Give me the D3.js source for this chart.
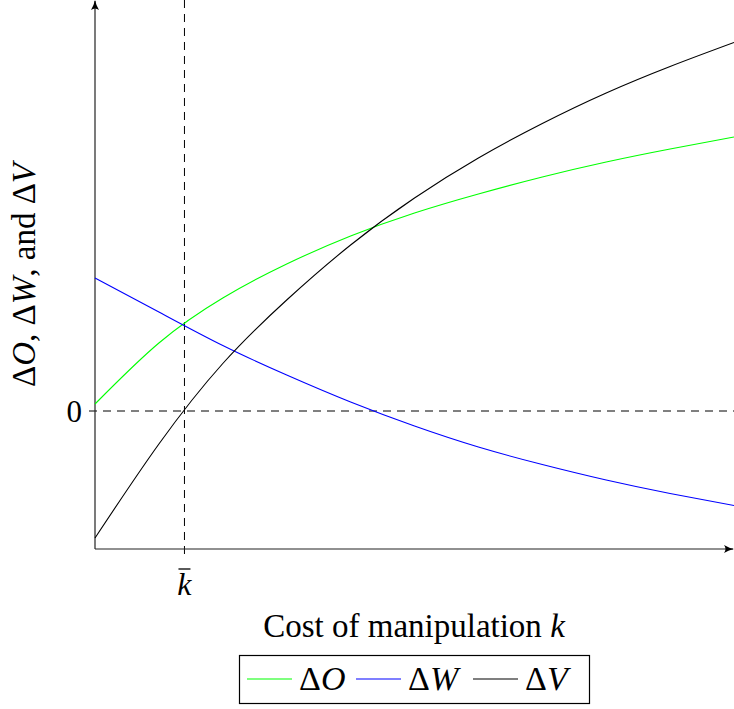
<!DOCTYPE html>
<html>
<head>
<meta charset="utf-8">
<script src="https://cdn.jsdelivr.net/npm/d3@7"></script>
<style>
  body { margin: 0; background: #fff; }
</style>
</head>
<body>
<div class="d3Chart"></div>
<script>
// data
var kValues = [0, 1, 2, 3, 4, 5, 6, 7, 8, 9, 10];
var deltaO = [0.07, 0.68, 1.13, 1.47, 1.75, 1.98, 2.17, 2.34, 2.49, 2.62, 2.74];
var deltaW = [1.33, 0.99, 0.655, 0.36, 0.09, -0.15, -0.36, -0.535, -0.69, -0.825, -0.945];
var deltaV = [-1.27, -0.33, 0.475, 1.11, 1.66, 2.13, 2.53, 2.875, 3.18, 3.445, 3.685];
var kBar = 1.4;
var seriesNames = ["O", "W", "V"];
var seriesColors = ["#00ff00", "#0000ff", "#000000"];

var width = 734;
var height = 709;
var fontFamily = "'Liberation Serif', 'Times New Roman', serif";

var svg = d3
  .select(".d3Chart")
  .append("svg")
  .attr("width", width)
  .attr("height", height)
  .attr("font-family", fontFamily);

// scales
var xScale = d3.scaleLinear().domain([0, 10]).range([95, 734]);
var yScale = d3.scaleLinear().domain([-1.38, 4.11]).range([549, 0]);

// arrow head
svg
  .append("defs")
  .append("marker")
  .attr("id", "arrow")
  .attr("viewBox", "0 0 10 10")
  .attr("refX", 9)
  .attr("refY", 5)
  .attr("markerWidth", 10)
  .attr("markerHeight", 10)
  .attr("markerUnits", "userSpaceOnUse")
  .attr("orient", "auto")
  .append("path")
  .attr("d", "M0,1 Q5,4 10,5 Q5,6 0,9 Q3,5 0,1 Z")
  .attr("fill", "#000");

// dashed reference lines
svg
  .append("line")
  .attr("x1", xScale(0) - 6)
  .attr("x2", xScale(10))
  .attr("y1", yScale(0))
  .attr("y2", yScale(0))
  .attr("stroke", "#000")
  .attr("stroke-width", 1)
  .attr("stroke-dasharray", "8,6");

svg
  .append("line")
  .attr("x1", xScale(kBar))
  .attr("x2", xScale(kBar))
  .attr("y1", 0)
  .attr("y2", yScale(-1.38) + 6)
  .attr("stroke", "#000")
  .attr("stroke-width", 1)
  .attr("stroke-dasharray", "8,6");

// axes
svg
  .append("line")
  .attr("x1", xScale(0))
  .attr("x2", xScale(0))
  .attr("y1", yScale(-1.38))
  .attr("y2", 1)
  .attr("stroke", "#222")
  .attr("stroke-width", 1.2)
  .attr("marker-end", "url(#arrow)");

svg
  .append("line")
  .attr("x1", xScale(0))
  .attr("x2", 733)
  .attr("y1", yScale(-1.38))
  .attr("y2", yScale(-1.38))
  .attr("stroke", "#222")
  .attr("stroke-width", 1.2)
  .attr("marker-end", "url(#arrow)");

// tick labels
svg
  .append("text")
  .attr("x", xScale(0) - 13)
  .attr("y", yScale(0) + 11)
  .attr("text-anchor", "end")
  .attr("font-size", 31)
  .text("0");

svg
  .append("text")
  .attr("x", xScale(kBar))
  .attr("y", 595)
  .attr("text-anchor", "middle")
  .attr("font-size", 32)
  .attr("font-style", "italic")
  .text("k");
svg
  .append("line")
  .attr("x1", xScale(kBar) - 6)
  .attr("x2", xScale(kBar) + 6)
  .attr("y1", 569)
  .attr("y2", 569)
  .attr("stroke", "#000")
  .attr("stroke-width", 1.3);

// curves
var line = d3
  .line()
  .x((d) => xScale(d[0]))
  .y((d) => yScale(d[1]))
  .curve(d3.curveNatural);

var allSeries = [deltaO, deltaW, deltaV];
svg
  .append("g")
  .selectAll("path")
  .data(allSeries)
  .enter()
  .append("path")
  .attr("d", (d) => line(d.map((v, i) => [kValues[i], v])))
  .attr("fill", "none")
  .attr("stroke", (d, i) => seriesColors[i])
  .attr("stroke-width", 1.1);

// axis titles
var xt = svg
  .append("text")
  .attr("x", 414)
  .attr("y", 637)
  .attr("text-anchor", "middle")
  .attr("font-size", 33);
xt.append("tspan").text("Cost of manipulation ");
xt.append("tspan").attr("font-style", "italic").text("k");

var yt = svg
  .append("text")
  .attr("transform", "translate(35,275) rotate(-90)")
  .attr("text-anchor", "middle")
  .attr("font-size", 33);
yt.append("tspan").text("Δ");
yt.append("tspan").attr("font-style", "italic").text("O");
yt.append("tspan").text(", Δ");
yt.append("tspan").attr("font-style", "italic").text("W");
yt.append("tspan").text(", and Δ");
yt.append("tspan").attr("font-style", "italic").text("V");

// legend
var legend = svg.append("g");
legend
  .append("rect")
  .attr("x", 239.5)
  .attr("y", 655.5)
  .attr("width", 350)
  .attr("height", 48)
  .attr("fill", "#fff")
  .attr("stroke", "#000")
  .attr("stroke-width", 1.2);

var legendX = [247, 356, 473];
seriesNames.forEach(function (name, i) {
  legend
    .append("line")
    .attr("x1", legendX[i])
    .attr("x2", legendX[i] + 45)
    .attr("y1", 679)
    .attr("y2", 679)
    .attr("stroke", seriesColors[i])
    .attr("stroke-width", 1.1);
  var t = legend
    .append("text")
    .attr("x", legendX[i] + 52)
    .attr("y", 690)
    .attr("font-size", 34);
  t.append("tspan").text("Δ");
  t.append("tspan").attr("font-style", "italic").text(name);
});
</script>
</body>
</html>
